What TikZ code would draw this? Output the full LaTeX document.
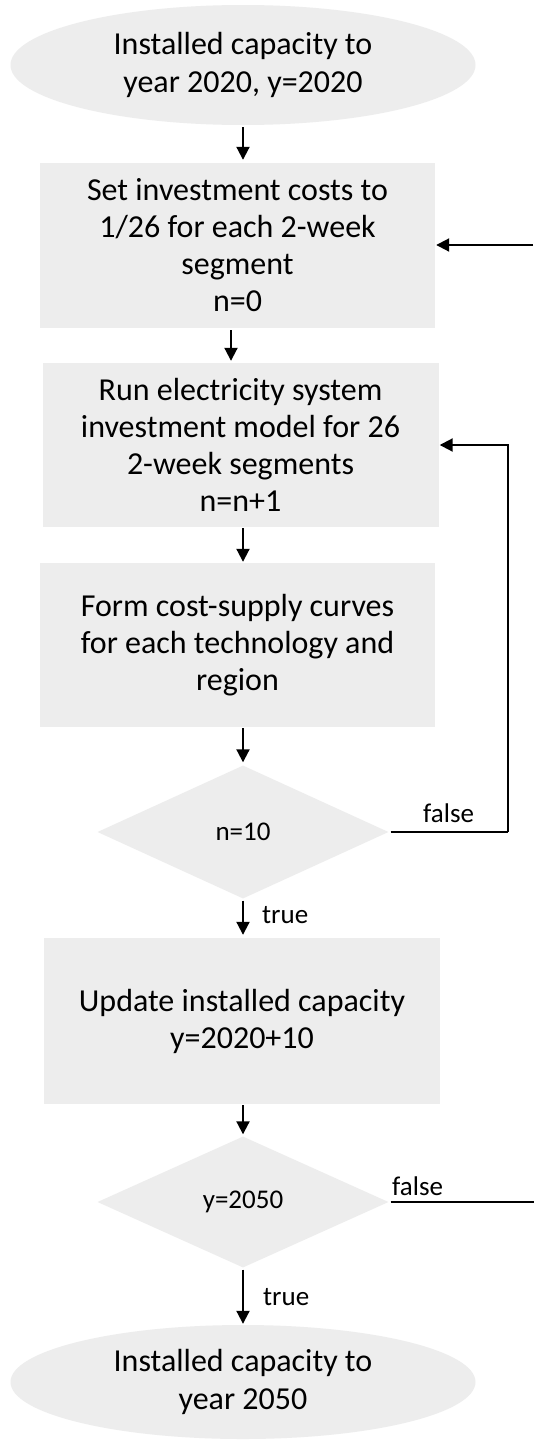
\documentclass[tikz,border=0pt]{standalone}
\usepackage{fontspec}
\setmainfont{Carlito}
\usetikzlibrary{shapes.geometric,arrows.meta}
\definecolor{boxgray}{HTML}{EDEDED}
\tikzset{
  pbox/.style={rectangle, fill=boxgray, inner sep=0pt, align=center,
    font=\fontsize{32}{37}\selectfont},
  term/.style={ellipse, fill=boxgray, inner sep=0pt, align=center,
    minimum width=465pt, font=\fontsize{32}{38}\selectfont},
  dia/.style={diamond, fill=boxgray, inner sep=0pt, align=center,
    minimum width=291pt, minimum height=133pt, font=\fontsize{27}{32}\selectfont},
  arr/.style={line width=2pt, -{Triangle[length=13pt,width=13pt]}},
  ln/.style={line width=2pt},
  lbl/.style={inner sep=0pt, anchor=west, font=\fontsize{27}{30}\selectfont}
}
\begin{document}
\begin{tikzpicture}[x=1pt,y=-1pt]
\fill[white] (0,0) rectangle (534,1440);
\useasboundingbox (0,0) rectangle (534,1440);

\node[term, minimum height=120pt] (e1) at (243,65) {Installed capacity to\\year 2020, y=2020};
\node[pbox, minimum width=395pt, minimum height=165pt] (b1) at (237.5,245.5)
  {Set investment costs to\\1/26 for each 2-week\\segment\\n=0};
\node[pbox, minimum width=396pt, minimum height=164pt] (b2) at (240.5,445)
  {Run electricity system\\investment model for 26\\2-week segments\\n=n+1};
\node[pbox, minimum width=395pt, minimum height=164pt] (b3) at (237.5,645)
  {Form cost-supply curves\\for each technology and\\region};
\node[dia] (d1) at (243,832) {n=10};
\node[pbox, minimum width=396pt, minimum height=166pt] (b4) at (242,1021)
  {Update installed capacity\\y=2020+10};
\node[dia, minimum height=131pt] (d2) at (243,1202) {y=2050};
\node[term, minimum height=114pt] (e2) at (243,1382) {Installed capacity to\\year 2050};

\coordinate (in1) at (534,245);
\coordinate (out2) at (534,1202);
\coordinate (loopx) at (508,0);

\draw[arr, shorten <=2pt, shorten >=3pt] (e1.south) -- (e1.south |- b1.north);
\draw[arr, shorten <=2pt, shorten >=2pt] ([xshift=-6.5pt]b1.south) -- ([xshift=-6.5pt]b1.south |- b2.north);
\draw[arr, shorten <=1pt, shorten >=1pt] (in1) -- (in1 -| b1.east);
\draw[arr, shorten <=1pt, shorten >=1pt] (d1.south |- b2.south) -- (d1.south |- b3.north);
\draw[arr, shorten <=1pt, shorten >=3pt] (d1.north |- b3.south) -- (d1.north);
\draw[ln, shorten <=2pt] (d1.east) -- (loopx |- d1.east);
\draw[arr] (loopx |- d1.east) -- (loopx |- b2.east) -- ([xshift=1pt]b2.east);
\node[lbl, anchor=base west] (f1) at (423,822) {false};
\draw[arr, shorten <=2pt, shorten >=3pt] (d1.south) -- (d1.south |- b4.north);
\node[lbl] (t1) at (262,915) {true};
\draw[arr, shorten <=1pt, shorten >=2pt] (d2.north |- b4.south) -- (d2.north);
\draw[ln, shorten <=2pt] (d2.east) -- (out2);
\node[lbl, anchor=base west] (f2) at (392,1195) {false};
\draw[arr, shorten <=2pt, shorten >=1pt] (d2.south) -- (d2.south |- e2.north);
\node[lbl] (t2) at (263,1297) {true};
\end{tikzpicture}
\end{document}
